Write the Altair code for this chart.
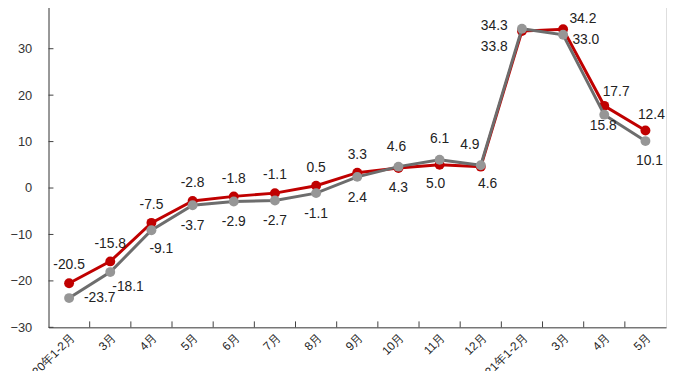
import json
import altair as alt
import pandas as pd

categories = ["2020年1-2月", "3月", "4月", "5月", "6月", "7月", "8月", "9月", "10月",
              "11月", "12月", "2021年1-2月", "3月", "4月", "5月"]
red_values = [-20.5, -15.8, -7.5, -2.8, -1.8, -1.1, 0.5, 3.3, 4.3, 5.0, 4.6,
              33.8, 34.2, 17.7, 12.4]
gray_values = [-23.7, -18.1, -9.1, -3.7, -2.9, -2.7, -1.1, 2.4, 4.6, 6.1, 4.9,
               34.3, 33.0, 15.8, 10.1]
series_names = ["社会消费品零售总额", "除汽车以外的消费品零售额"]
y_ticks = [-30, -20, -10, 0, 10, 20, 30, 40]

# label placement (pixel offsets, layout only)
red_offsets = [(0, -18)] * 8 + [(0, 20), (-4, 19), (7, 18), (-28, 16), (20, -10), (12, -14), (6, -16)]
gray_offsets = [(31, 0), (18, 15), (10, 19)] + [(0, 21)] * 5 + \
    [(-2, -20), (0, -21), (-11, -20), (-28, -3), (23, 5), (-1, 12), (4, 20)]

W, H = 625, 329
FONT = "Liberation Sans"
RED = "#C00000"
GRAY_LINE = "#6d6d6d"
GRAY_PT = "#969696"
AXIS_COLOR = "#404040"

rows = []
for name, vals, offs in [(series_names[0], red_values, red_offsets),
                         (series_names[1], gray_values, gray_offsets)]:
    for i, v in enumerate(vals):
        rows.append({"idx": i, "value": v, "series": name,
                     "label": f"{v:.1f}", "dx": offs[i][0], "dy": offs[i][1]})
df = pd.DataFrame(rows)

xscale = alt.Scale(type="band", paddingInner=0, paddingOuter=0, domain=list(range(len(categories))))
yscale = alt.Scale(domain=[-30, 40], nice=False, zero=False)
label_expr = f"{json.dumps(categories, ensure_ascii=False)}[datum.value]"

x_enc = alt.X("idx:O", scale=xscale,
              axis=alt.Axis(title=None, labelExpr=label_expr, labelAngle=-45, ticks=False,
                            labelFont=FONT, labelFontSize=12, labelColor="#222",
                            labelPadding=4, domainColor=AXIS_COLOR, labelOverlap=False))
y_enc = alt.Y("value:Q", scale=yscale,
              axis=alt.Axis(title=None, values=y_ticks, grid=False, ticks=False,
                            labelFont=FONT, labelFontSize=13, labelColor="#333",
                            labelPadding=17, domainColor=AXIS_COLOR))

base = alt.Chart(df)
red = base.transform_filter(alt.datum.series == series_names[0])
gray = base.transform_filter(alt.datum.series == series_names[1])

red_line = red.mark_line(color=RED, strokeWidth=3).encode(x=x_enc, y=y_enc)
red_pts = red.mark_circle(color=RED, size=100, opacity=1).encode(x=x_enc, y=y_enc)
gray_line = gray.mark_line(color=GRAY_LINE, strokeWidth=3).encode(x=x_enc, y=y_enc)
gray_pts = gray.mark_circle(color=GRAY_PT, size=100, opacity=1).encode(x=x_enc, y=y_enc)

label_layers = []
for (dx, dy) in sorted(set(red_offsets + gray_offsets)):
    label_layers.append(
        base.transform_filter((alt.datum.dx == dx) & (alt.datum.dy == dy))
        .mark_text(font=FONT, fontSize=14, color="#222", baseline="middle", align="center",
                   dx=dx, dy=dy)
        .encode(x=x_enc, y=y_enc, text="label:N")
    )

xt = pd.DataFrame({"idx": list(range(1, len(categories)))})
x_ticks = alt.Chart(xt).mark_rule(color=AXIS_COLOR, strokeWidth=1).encode(
    x=alt.X("idx:O", scale=xscale, bandPosition=0),
    y=alt.value(H - 6), y2=alt.value(H))

yt = pd.DataFrame({"value": y_ticks})
y_tick_rules = alt.Chart(yt).mark_rule(color=AXIS_COLOR, strokeWidth=1).encode(
    y=alt.Y("value:Q", scale=yscale), x=alt.value(0), x2=alt.value(5))

chart = alt.layer(red_line, red_pts, gray_line, gray_pts, *label_layers, x_ticks, y_tick_rules).properties(
    width=W, height=H,
    autosize=alt.AutoSizeParams(type="none"),
    padding={"left": 41, "top": -8, "right": 2, "bottom": 42},
).configure_view(stroke=AXIS_COLOR, strokeWidth=1).configure(background="white")

chart.save("out.html", embed_options={"renderer": "svg", "actions": False})
